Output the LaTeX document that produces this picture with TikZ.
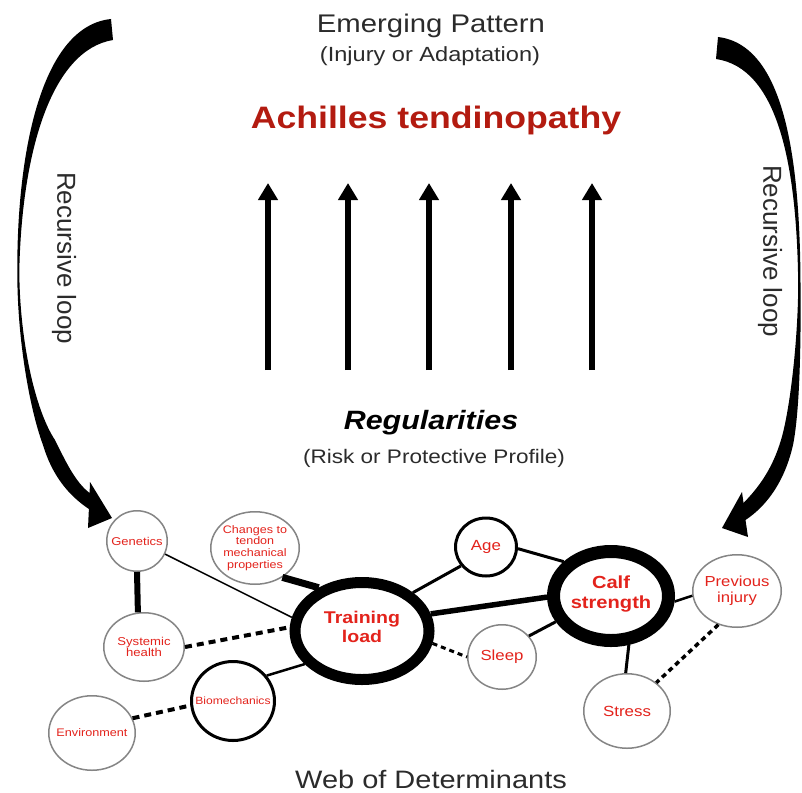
\documentclass[tikz,border=0pt]{standalone}
\usepackage{fontspec}
\setmainfont{Liberation Sans}[FakeStretch=1.15]
\newfontfamily\plainsans{Liberation Sans}
\usetikzlibrary{shapes.geometric,arrows.meta}
\definecolor{lblred}{HTML}{E3231C}
\definecolor{titlered}{HTML}{B31B10}
\definecolor{txtgray}{HTML}{2B2B2B}
\definecolor{ringgray}{HTML}{858585}
\tikzset{
  ringthin/.style={ellipse, draw=ringgray, line width=1.5pt, fill=white, inner sep=0pt},
  ringmid/.style={ellipse, draw=black, line width=3pt, fill=white, inner sep=0pt},
  ringbig/.style={ellipse, draw=black, fill=white, inner sep=0pt},
  lbl/.style={text=lblred, align=center, inner sep=0pt},
  head/.style={text=txtgray, inner sep=0pt, anchor=base},
  upar/.style={line width=6pt, -{Triangle[width=19pt,length=17pt]}},
  dsh/.style={dash pattern=on 7pt off 5pt},
  dshs/.style={dash pattern=on 5pt off 4pt},
}
\begin{document}
\begin{tikzpicture}[x=1pt,y=-1pt]
\useasboundingbox (0,0) rectangle (802,792);

% headings
\node[head, font=\fontsize{25.5}{30}\selectfont] (emerg) at (431,33) {Emerging Pattern};
\node[head, font=\fontsize{20.5}{24}\selectfont] (injad) at (430,62) {(Injury or Adaptation)};
\node[head, text=titlered, font=\bfseries\fontsize{31}{36}\selectfont] (achil) at (436,128) {Achilles tendinopathy};
\node[head, text=black, font=\bfseries\itshape\fontsize{26.5}{30}\selectfont] (regul) at (431,429) {Regularities};
\node[head, font=\fontsize{19.6}{24}\selectfont] (riskp) at (434,463) {(Risk or Protective Profile)};
\node[head, font=\fontsize{25.2}{30}\selectfont] (webd) at (431,788) {Web of Determinants};

% recursive loop texts
\node[rotate=-90, text=txtgray, inner sep=0pt, font=\plainsans\fontsize{26}{30}\selectfont] (recL) at (64,258) {Recursive loop};
\node[rotate=-90, text=txtgray, inner sep=0pt, font=\plainsans\fontsize{26}{30}\selectfont] (recR) at (770,251) {Recursive loop};

% five upward arrows
\foreach \i/\xx in {1/268,2/348,3/429,4/511,5/592}{
  \coordinate (ab\i) at (\xx,370);
  \coordinate (at\i) at (\xx,183);
  \draw[upar] (ab\i) -- (at\i);
}

% left recursive arrow
\fill[black] (111,19) -- (113,40)
  .. controls (52,50) and (22,150) .. (19.3,270)
  .. controls (19.5,340) and (35,410) .. (55,440)
  .. controls (65,460) and (75,482) .. (89.6,493)
  -- (90,482) -- (112,518) -- (88,528) -- (88.9,509)
  .. controls (68,495) and (52,475) .. (43,445)
  .. controls (30,410) and (17,340) .. (17.3,270)
  .. controls (17,150) and (42,26) .. (111,19) -- cycle;

% right recursive arrow
\fill[black] (718,37) -- (716,59)
  .. controls (778,68) and (797,165) .. (798.2,285)
  .. controls (798,340) and (790,410) .. (781,440)
  .. controls (772,470) and (758,488) .. (743.5,503)
  -- (742,492) -- (722,528) -- (748,537) -- (745.5,520)
  .. controls (768,505) and (785,480) .. (793,445)
  .. controls (800,410) and (801,340) .. (800.5,285)
  .. controls (800,160) and (785,45) .. (718,37) -- cycle;

% nodes of the web
\node[ringthin, minimum width=60.5pt, minimum height=60.5pt,
  label={[lbl, font=\fontsize{11.3}{12}\selectfont]center:Genetics}] (gen) at (137,541) {};
\node[ringthin, minimum width=88.5pt, minimum height=72.5pt,
  label={[lbl, font=\fontsize{10.9}{11.8}\selectfont]center:Changes to\\tendon\\mechanical\\properties}] (chg) at (255,548) {};
\node[ringthin, minimum width=80.5pt, minimum height=68.5pt,
  label={[lbl, font=\fontsize{11.4}{11.5}\selectfont]center:Systemic\\health}] (sys) at (144,647) {};
\node[ringthin, minimum width=86.5pt, minimum height=74.5pt,
  label={[lbl, font=\fontsize{11}{12}\selectfont]center:Environment}] (env) at (92,733) {};
\node[ringmid, minimum width=83pt, minimum height=79pt,
  label={[lbl, font=\fontsize{10.5}{12}\selectfont]center:Biomechanics}] (bio) at (233,701) {};
\node[ringbig, line width=11pt, minimum width=134pt, minimum height=97pt,
  label={[lbl, font=\bfseries\fontsize{17}{19}\selectfont, yshift=4pt]center:Training\\load}] (train) at (362,631) {};
\node[ringmid, minimum width=61pt, minimum height=58pt,
  label={[lbl, font=\fontsize{14.7}{16}\selectfont]center:Age}] (age) at (486,547) {};
\node[ringthin, minimum width=68.5pt, minimum height=64.5pt,
  label={[lbl, font=\fontsize{14.6}{16}\selectfont]center:Sleep}] (sleep) at (502,657) {};
\node[ringbig, line width=13pt, minimum width=115pt, minimum height=89pt,
  label={[lbl, font=\bfseries\fontsize{17.5}{20}\selectfont, yshift=2pt]center:Calf\\strength}] (calf) at (611,596) {};
\node[ringthin, minimum width=88.5pt, minimum height=72.5pt,
  label={[lbl, font=\fontsize{14.5}{16}\selectfont]center:Previous\\injury}] (prev) at (737,591) {};
\node[ringthin, minimum width=86.5pt, minimum height=74.5pt,
  label={[lbl, font=\fontsize{14.7}{16}\selectfont]center:Stress}] (stress) at (627,711) {};

% connectors
\draw[line width=6pt] (gen.south) -- (sys.100);
\draw[line width=1.5pt] (gen.-25) -- (train.169);
\draw[line width=7pt] (chg.-47) -- (train.135);
\draw[line width=4pt, dsh] (sys.east) -- (train.177);
\draw[line width=2.5pt] (bio.37) -- (train.210);
\draw[line width=4pt, dsh] (env.20) -- (bio.186);
\draw[line width=3pt] (train.37) -- (age.217);
\draw[line width=5.5pt] (train.14) -- (calf.181);
\draw[line width=3pt, dshs] (train.-10) -- (sleep.west);
\draw[line width=3pt] (age.-3) -- (calf.144);
\draw[line width=3pt] (sleep.38) -- (calf.205);
\draw[line width=2.5pt] (calf.-5) -- (prev.186);
\draw[line width=3pt] (calf.-70) -- (stress.92);
\draw[line width=3.5pt, dshs] (prev.-119) -- (stress.44);
\end{tikzpicture}
\end{document}
